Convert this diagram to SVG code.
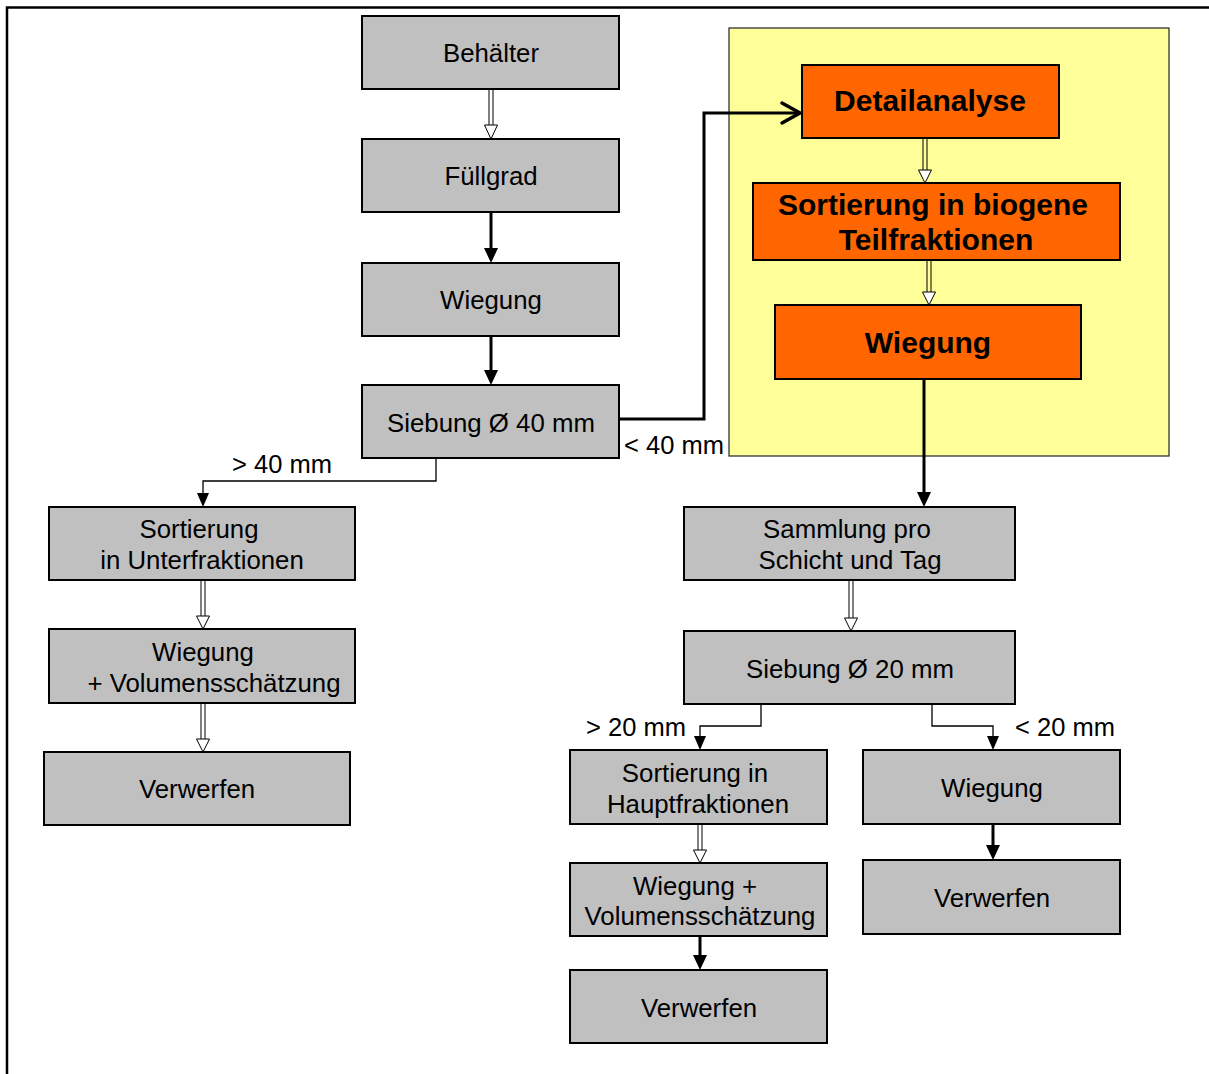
<svg xmlns="http://www.w3.org/2000/svg" width="1209" height="1074" viewBox="0 0 1209 1074">
  <style>
    .box { fill: #C0C0C0; stroke: #000; stroke-width: 2; }
    .hot { fill: #FF6600; stroke: #000; stroke-width: 2; }
    .t { font-family: "Liberation Sans", Arial, sans-serif; font-size: 25.8px; fill: #000; text-anchor: middle; }
    .b { font-family: "Liberation Sans", Arial, sans-serif; font-size: 30px; font-weight: bold; fill: #000; text-anchor: middle; }
    .lbl { font-family: "Liberation Sans", Arial, sans-serif; font-size: 25.5px; fill: #000; }
    .thin { fill: none; stroke: #000; stroke-width: 1.3; }
    .thick { fill: none; stroke: #000; stroke-width: 3; }
    .rail { fill: none; stroke: #000; stroke-width: 1; }
    .hollow { fill: #fff; stroke: #000; stroke-width: 1; }
    .head { fill: #000; }
  </style>

  <!-- page frame -->
  <path d="M7,1074 V7.5 H1209" fill="none" stroke="#000" stroke-width="2.5"/>

  <!-- highlighted detail area -->
  <rect id="detail-area" x="729" y="28" width="440" height="428" fill="#FFFF99" stroke="#333" stroke-width="1.3"/>

  <!-- connectors -->
  <g id="connectors">
    <!-- hollow arrows (double rail + open head) -->
    <g>
      <path class="rail" d="M489,89 V125 M493,89 V125"/>
      <path class="hollow" d="M484.5,125 H497.5 L491,139 Z"/>
    </g>
    <g>
      <path class="rail" d="M923,138 V170 M927,138 V170"/>
      <path class="hollow" d="M918.5,170 H931.5 L925,183 Z"/>
    </g>
    <g>
      <path class="rail" d="M927,258 V292 M931,258 V292"/>
      <path class="hollow" d="M922.5,292 H935.5 L929,305 Z"/>
    </g>
    <g>
      <path class="rail" d="M201,580 V616 M205,580 V616"/>
      <path class="hollow" d="M196.5,616 H209.5 L203,629 Z"/>
    </g>
    <g>
      <path class="rail" d="M201,703 V739 M205,703 V739"/>
      <path class="hollow" d="M196.5,739 H209.5 L203,752 Z"/>
    </g>
    <g>
      <path class="rail" d="M849,580 V618 M853,580 V618"/>
      <path class="hollow" d="M844.5,618 H857.5 L851,631 Z"/>
    </g>
    <g>
      <path class="rail" d="M698,824 V850 M702,824 V850"/>
      <path class="hollow" d="M693.5,850 H706.5 L700,863 Z"/>
    </g>

    <!-- solid thick arrows -->
    <path class="thick" d="M491,212 V250"/>
    <path class="head" d="M484,248 H498 L491,263 Z"/>
    <path class="thick" d="M491,336 V372"/>
    <path class="head" d="M484,370 H498 L491,385 Z"/>
    <path class="thick" d="M924,379 V494" stroke-width="3.5"/>
    <path class="head" d="M917,492 H931 L924,507 Z"/>
    <path class="thick" d="M700,936 V957"/>
    <path class="head" d="M693,955 H707 L700,970 Z"/>
    <path class="thick" d="M993,824 V847"/>
    <path class="head" d="M986,845 H1000 L993,860 Z"/>

    <!-- fine fraction path to detail analysis -->
    <path class="thick" d="M619,419 H704 V113 H800"/>
    <path d="M782,103 L800,113 L782,123" fill="none" stroke="#000" stroke-width="3.5" stroke-linecap="round" stroke-linejoin="miter"/>

    <!-- thin elbow arrows after sieving -->
    <path class="thin" d="M436,458 V481 H203 V495"/>
    <path class="head" d="M197,493 H209 L203,507 Z"/>
    <path class="thin" d="M761,704 V726 H700 V738"/>
    <path class="head" d="M694,736 H706 L700,750 Z"/>
    <path class="thin" d="M932,704 V726 H993 V738"/>
    <path class="head" d="M987,736 H999 L993,750 Z"/>
  </g>

  <!-- size labels -->
  <text class="lbl" x="232" y="473">&gt; 40 mm</text>
  <text class="lbl" x="624" y="454">&lt; 40 mm</text>
  <text class="lbl" x="586" y="736">&gt; 20 mm</text>
  <text class="lbl" x="1015" y="736">&lt; 20 mm</text>

  <!-- main column -->
  <g id="behaelter">
    <rect class="box" x="362" y="16" width="257" height="73"/>
    <text class="t" x="491" y="62">Behälter</text>
  </g>
  <g id="fuellgrad">
    <rect class="box" x="362" y="139" width="257" height="73"/>
    <text class="t" x="491" y="185">Füllgrad</text>
  </g>
  <g id="wiegung-1">
    <rect class="box" x="362" y="263" width="257" height="73"/>
    <text class="t" x="491" y="309">Wiegung</text>
  </g>
  <g id="siebung-40">
    <rect class="box" x="362" y="385" width="257" height="73"/>
    <text class="t" x="491" y="432">Siebung Ø 40 mm</text>
  </g>

  <!-- detail analysis -->
  <g id="detailanalyse">
    <rect class="hot" x="802" y="65" width="257" height="73"/>
    <text class="b" x="930" y="111">Detailanalyse</text>
  </g>
  <g id="sortierung-biogen">
    <rect class="hot" x="753" y="183" width="367" height="77"/>
    <text class="b" x="933" y="215">Sortierung in biogene</text>
    <text class="b" x="936" y="250">Teilfraktionen</text>
  </g>
  <g id="wiegung-detail">
    <rect class="hot" x="775" y="305" width="306" height="74"/>
    <text class="b" x="928" y="353">Wiegung</text>
  </g>

  <!-- coarse fraction -->
  <g id="sortierung-unterfraktionen">
    <rect class="box" x="49" y="507" width="306" height="73"/>
    <text class="t" x="199" y="538">Sortierung</text>
    <text class="t" x="202" y="569">in Unterfraktionen</text>
  </g>
  <g id="wiegung-volumen-1">
    <rect class="box" x="49" y="629" width="306" height="74"/>
    <text class="t" x="203" y="661">Wiegung</text>
    <text class="t" x="214" y="692">+ Volumensschätzung</text>
  </g>
  <g id="verwerfen-1">
    <rect class="box" x="44" y="752" width="306" height="73"/>
    <text class="t" x="197" y="798">Verwerfen</text>
  </g>

  <!-- collected fine fraction -->
  <g id="sammlung">
    <rect class="box" x="684" y="507" width="331" height="73"/>
    <text class="t" x="847" y="538">Sammlung pro</text>
    <text class="t" x="850" y="569">Schicht und Tag</text>
  </g>
  <g id="siebung-20">
    <rect class="box" x="684" y="631" width="331" height="73"/>
    <text class="t" x="850" y="678">Siebung Ø 20 mm</text>
  </g>
  <g id="sortierung-hauptfraktionen">
    <rect class="box" x="570" y="750" width="257" height="74"/>
    <text class="t" x="695" y="782">Sortierung in</text>
    <text class="t" x="698" y="813">Hauptfraktionen</text>
  </g>
  <g id="wiegung-volumen-2">
    <rect class="box" x="570" y="863" width="257" height="73"/>
    <text class="t" x="695" y="895">Wiegung +</text>
    <text class="t" x="700" y="925">Volumensschätzung</text>
  </g>
  <g id="verwerfen-2">
    <rect class="box" x="570" y="970" width="257" height="73"/>
    <text class="t" x="699" y="1017">Verwerfen</text>
  </g>
  <g id="wiegung-fein">
    <rect class="box" x="863" y="750" width="257" height="74"/>
    <text class="t" x="992" y="797">Wiegung</text>
  </g>
  <g id="verwerfen-3">
    <rect class="box" x="863" y="860" width="257" height="74"/>
    <text class="t" x="992" y="907">Verwerfen</text>
  </g>
</svg>
